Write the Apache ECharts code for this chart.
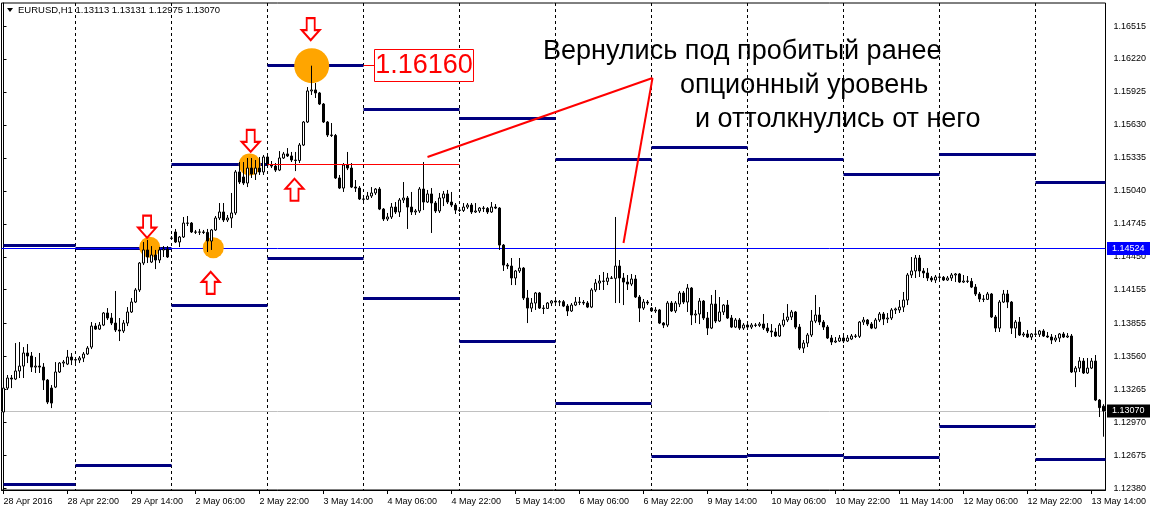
<!DOCTYPE html>
<html><head><meta charset="utf-8">
<script src="https://cdn.jsdelivr.net/npm/echarts@6/dist/echarts.min.js"></script>
<style>html,body{margin:0;padding:0;background:#fff}#c{width:1150px;height:511px}</style>
</head><body><div id="c"></div>
<script>
// ---- data ----
const days = ['28 Apr','29 Apr','2 May','3 May','4 May','5 May','6 May','9 May','10 May','11 May','12 May','13 May'];
const dayFirstHour = [6,0,0,0,0,0,0,0,0,0,0,0];
const dayLastHour  = [23,23,23,23,23,23,23,23,23,23,23,17];
const xTickLabels = ['28 Apr 2016','28 Apr 22:00','29 Apr 14:00','2 May 06:00','2 May 22:00','3 May 14:00','4 May 06:00','4 May 22:00','5 May 14:00','6 May 06:00','6 May 22:00','9 May 14:00','10 May 06:00','10 May 22:00','11 May 14:00','12 May 06:00','12 May 22:00','13 May 14:00'];
const yTicks = [1.12380,1.12675,1.12970,1.13265,1.13560,1.13855,1.14155,1.14450,1.14745,1.15040,1.15335,1.15630,1.15925,1.16220,1.16515];
const yMin = 1.12363, yMax = 1.16721;

const opens = [
1.13061,1.13275,1.13365,1.13356,1.13428,1.13472,1.13589,1.13562,1.13463,1.13472,
1.13463,1.13347,1.13275,1.13284,1.13419,1.13499,1.13490,1.13553,1.13526,1.13526,
1.13544,1.13580,1.13642,1.13830,1.13803,1.13839,1.13947,1.13902,1.13857,1.13795,
1.13786,1.13857,1.13956,1.14045,1.14153,1.14394,1.14511,1.14403,1.14466,1.14421,
1.14511,1.14520,1.14618,1.14672,1.14582,1.14627,1.14752,1.14752,1.14672,1.14670,
1.14672,1.14668,1.14591,1.14690,1.14797,1.14851,1.14779,1.14797,1.14842,1.15209,
1.15164,1.15110,1.15244,1.15191,1.15244,1.15209,1.15343,1.15271,1.15262,1.15226,
1.15334,1.15370,1.15352,1.15316,1.15312,1.15450,1.15656,1.15934,1.15943,1.15916,
1.15817,1.15656,1.15540,1.15536,1.15155,1.15065,1.15271,1.15244,1.15074,1.15065,
1.14967,1.14965,1.14994,1.15021,1.15056,1.14877,1.14788,1.14806,1.14895,1.14851,
1.14958,1.14976,1.14895,1.14851,1.14860,1.15056,1.14940,1.15012,1.14931,1.14860,
1.14976,1.15012,1.14940,1.14913,1.14868,1.14865,1.14895,1.14913,1.14851,1.14860,
1.14886,1.14883,1.14851,1.14895,1.14886,1.14555,1.14376,1.14367,1.14260,1.14323,
1.14349,1.14081,1.13991,1.14036,1.14126,1.13991,1.13988,1.14036,1.14054,1.14045,
1.14048,1.14009,1.13965,1.14018,1.14045,1.14042,1.14036,1.14000,1.14153,1.14215,
1.14233,1.14230,1.14260,1.14257,1.14367,1.14260,1.14224,1.14206,1.14251,1.14090,
1.13991,1.14045,1.13991,1.13965,1.13974,1.13857,1.13839,1.14036,1.13965,1.14027,
1.14126,1.14045,1.14170,1.13929,1.13938,1.14054,1.13902,1.13812,1.14027,1.13875,
1.13956,1.14018,1.13902,1.13821,1.13884,1.13812,1.13839,1.13821,1.13839,1.13836,
1.13848,1.13812,1.13786,1.13777,1.13741,1.13839,1.13884,1.13911,1.13956,1.13821,
1.13633,1.13678,1.13750,1.13875,1.13929,1.13866,1.13821,1.13723,1.13687,1.13696,
1.13723,1.13696,1.13714,1.13741,1.13738,1.13866,1.13884,1.13848,1.13812,1.13884,
1.13938,1.13893,1.13902,1.13974,1.13974,1.14000,1.14063,1.14287,1.14323,1.14439,
1.14323,1.14305,1.14260,1.14242,1.14269,1.14266,1.14242,1.14260,1.14287,1.14296,
1.14224,1.14233,1.14230,1.14179,1.14117,1.14072,1.14069,1.14117,1.13911,1.13812,
1.14045,1.14117,1.14045,1.13812,1.13866,1.13750,1.13759,1.13732,1.13759,1.13756,
1.13786,1.13741,1.13732,1.13705,1.13723,1.13759,1.13732,1.13741,1.13419,1.13454,
1.13517,1.13410,1.13454,1.13517,1.13168,1.13113];

const closes = [
1.13275,1.13365,1.13356,1.13428,1.13472,1.13589,1.13562,1.13463,1.13472,1.13463,
1.13347,1.13150,1.13141,1.13419,1.13499,1.13508,1.13553,1.13526,1.13530,1.13544,
1.13580,1.13633,1.13830,1.13803,1.13839,1.13947,1.13902,1.13857,1.13795,1.13786,
1.13857,1.13956,1.14045,1.14153,1.14394,1.14511,1.14448,1.14466,1.14421,1.14511,
1.14520,1.14448,1.14615,1.14582,1.14627,1.14752,1.14750,1.14672,1.14670,1.14672,
1.14668,1.14591,1.14690,1.14797,1.14851,1.14779,1.14797,1.14842,1.15209,1.15119,
1.15110,1.15244,1.15191,1.15244,1.15209,1.15343,1.15271,1.15262,1.15226,1.15334,
1.15370,1.15352,1.15316,1.15312,1.15450,1.15656,1.15934,1.15943,1.15916,1.15817,
1.15656,1.15540,1.15536,1.15155,1.15065,1.15271,1.15244,1.15074,1.15065,1.14967,
1.14965,1.14994,1.15021,1.15056,1.14877,1.14788,1.14806,1.14895,1.14851,1.14958,
1.14976,1.14895,1.14851,1.14860,1.15056,1.14940,1.15012,1.14931,1.14860,1.14976,
1.15012,1.14940,1.14913,1.14868,1.14865,1.14895,1.14913,1.14851,1.14860,1.14886,
1.14883,1.14851,1.14895,1.14886,1.14555,1.14376,1.14367,1.14260,1.14323,1.14349,
1.14081,1.13991,1.14036,1.14126,1.13991,1.13988,1.14036,1.14054,1.14045,1.14048,
1.14009,1.13965,1.14018,1.14045,1.14042,1.14036,1.14000,1.14153,1.14215,1.14233,
1.14230,1.14260,1.14257,1.14367,1.14260,1.14224,1.14206,1.14251,1.14090,1.13991,
1.14045,1.14036,1.13965,1.13974,1.13857,1.13839,1.14036,1.13965,1.14036,1.14126,
1.14045,1.14170,1.13929,1.13938,1.14054,1.13902,1.13812,1.14027,1.13875,1.13956,
1.14018,1.13902,1.13821,1.13884,1.13812,1.13839,1.13821,1.13839,1.13836,1.13848,
1.13812,1.13786,1.13777,1.13741,1.13839,1.13884,1.13911,1.13956,1.13821,1.13633,
1.13678,1.13750,1.13875,1.13929,1.13866,1.13821,1.13723,1.13687,1.13696,1.13723,
1.13696,1.13723,1.13741,1.13738,1.13866,1.13884,1.13848,1.13812,1.13884,1.13938,
1.13893,1.13902,1.13974,1.13983,1.14000,1.14063,1.14287,1.14323,1.14439,1.14323,
1.14305,1.14260,1.14242,1.14269,1.14266,1.14242,1.14260,1.14287,1.14296,1.14224,
1.14233,1.14230,1.14179,1.14117,1.14072,1.14069,1.14117,1.13911,1.13812,1.14045,
1.14117,1.14045,1.13812,1.13866,1.13750,1.13759,1.13732,1.13759,1.13756,1.13786,
1.13741,1.13732,1.13705,1.13723,1.13759,1.13732,1.13741,1.13419,1.13454,1.13517,
1.13410,1.13454,1.13517,1.13168,1.13100,1.13070];

const highs = [
1.13454,1.13392,1.13392,1.13678,1.13687,1.13642,1.13669,1.13598,1.13553,1.13589,
1.13499,1.13356,1.13302,1.13508,1.13508,1.13526,1.13616,1.13589,1.13553,1.13562,
1.13598,1.13651,1.13866,1.13857,1.13866,1.13956,1.13991,1.13947,1.14144,1.13902,
1.13884,1.14000,1.14081,1.14170,1.14403,1.14582,1.14600,1.14546,1.14511,1.14537,
1.14546,1.14546,1.14636,1.14699,1.14636,1.14806,1.14815,1.14761,1.14690,1.14699,
1.14690,1.14699,1.14699,1.14815,1.14931,1.14931,1.14824,1.15021,1.15226,1.15298,
1.15298,1.15334,1.15334,1.15316,1.15343,1.15361,1.15361,1.15307,1.15289,1.15396,
1.15388,1.15423,1.15388,1.15388,1.15468,1.15665,1.15969,1.16160,1.16005,1.15925,
1.15826,1.15665,1.15647,1.15549,1.15182,1.15289,1.15388,1.15289,1.15137,1.15083,
1.15003,1.15030,1.15074,1.15065,1.15074,1.14886,1.14842,1.14931,1.14940,1.14976,
1.15119,1.14994,1.15030,1.14877,1.15074,1.15298,1.15048,1.15065,1.14949,1.15021,
1.15039,1.15048,1.15030,1.14931,1.14895,1.14931,1.14931,1.14931,1.14931,1.14895,
1.14904,1.14895,1.14940,1.14922,1.14895,1.14564,1.14394,1.14439,1.14332,1.14439,
1.14358,1.14153,1.14081,1.14135,1.14135,1.14018,1.14045,1.14063,1.14063,1.14063,
1.14063,1.14027,1.14036,1.14090,1.14090,1.14063,1.14054,1.14170,1.14251,1.14287,
1.14314,1.14305,1.14278,1.14806,1.14421,1.14305,1.14287,1.14296,1.14287,1.14108,
1.14072,1.14063,1.14000,1.14000,1.13983,1.13866,1.14054,1.14054,1.14054,1.14144,
1.14144,1.14206,1.14179,1.13974,1.14081,1.14063,1.13956,1.14108,1.14153,1.14090,
1.14027,1.14063,1.13929,1.13902,1.13902,1.13857,1.13857,1.13857,1.13857,1.13866,
1.13938,1.13857,1.13848,1.13812,1.13857,1.13947,1.14027,1.13974,1.13965,1.13848,
1.13705,1.13768,1.13974,1.14108,1.14000,1.13884,1.13839,1.13750,1.13732,1.13750,
1.13750,1.13750,1.13759,1.13759,1.13875,1.13911,1.13893,1.13866,1.13902,1.13956,
1.13956,1.13947,1.13991,1.13995,1.14063,1.14135,1.14305,1.14448,1.14466,1.14466,
1.14349,1.14349,1.14278,1.14287,1.14287,1.14278,1.14278,1.14305,1.14305,1.14305,
1.14287,1.14278,1.14260,1.14206,1.14135,1.14108,1.14135,1.14126,1.13929,1.14063,
1.14153,1.14153,1.14054,1.13884,1.13911,1.13777,1.13795,1.13768,1.13795,1.13795,
1.13803,1.13777,1.13759,1.13750,1.13768,1.13777,1.13768,1.13759,1.13472,1.13553,
1.13544,1.13544,1.13544,1.13571,1.13177,1.13131];

const lows = [
1.13025,1.13258,1.13275,1.13347,1.13365,1.13365,1.13499,1.13419,1.13410,1.13410,
1.13258,1.13132,1.13096,1.13275,1.13410,1.13463,1.13481,1.13481,1.13490,1.13499,
1.13508,1.13571,1.13624,1.13795,1.13795,1.13830,1.13884,1.13839,1.13777,1.13696,
1.13768,1.13830,1.13947,1.14036,1.14135,1.14376,1.14394,1.14394,1.14340,1.14394,
1.14448,1.14439,1.14600,1.14573,1.14537,1.14618,1.14725,1.14663,1.14654,1.14645,
1.14654,1.14493,1.14511,1.14681,1.14779,1.14761,1.14761,1.14708,1.14824,1.15101,
1.15092,1.15074,1.15155,1.15137,1.15182,1.15182,1.15262,1.15244,1.15209,1.15217,
1.15325,1.15343,1.15298,1.15217,1.15289,1.15441,1.15647,1.15898,1.15871,1.15808,
1.15647,1.15522,1.15522,1.15146,1.15056,1.15030,1.15226,1.15065,1.15030,1.14958,
1.14931,1.14958,1.14976,1.15003,1.14868,1.14770,1.14770,1.14788,1.14833,1.14806,
1.14931,1.14699,1.14824,1.14824,1.14842,1.14868,1.14931,1.14663,1.14842,1.14842,
1.14904,1.14922,1.14895,1.14833,1.14851,1.14851,1.14877,1.14833,1.14842,1.14842,
1.14851,1.14833,1.14842,1.14877,1.14511,1.14323,1.14340,1.14197,1.14197,1.14305,
1.14063,1.13857,1.13956,1.13974,1.13983,1.13938,1.13983,1.14009,1.14027,1.14009,
1.14000,1.13920,1.13956,1.14009,1.14018,1.14018,1.13991,1.13991,1.14135,1.14153,
1.14153,1.14197,1.14251,1.14036,1.14036,1.14018,1.14153,1.14188,1.14081,1.13866,
1.13974,1.14018,1.13956,1.13947,1.13848,1.13812,1.13821,1.13956,1.13947,1.14000,
1.14027,1.13956,1.13839,1.13857,1.13848,1.13884,1.13750,1.13803,1.13857,1.13866,
1.13929,1.13893,1.13812,1.13812,1.13795,1.13795,1.13795,1.13803,1.13821,1.13821,
1.13795,1.13768,1.13732,1.13732,1.13732,1.13821,1.13866,1.13884,1.13803,1.13616,
1.13589,1.13642,1.13732,1.13857,1.13839,1.13795,1.13714,1.13660,1.13678,1.13687,
1.13678,1.13687,1.13705,1.13723,1.13723,1.13839,1.13830,1.13803,1.13803,1.13866,
1.13839,1.13857,1.13884,1.13938,1.13947,1.13956,1.14018,1.14260,1.14260,1.14269,
1.14260,1.14233,1.14224,1.14215,1.14242,1.14233,1.14233,1.14233,1.14224,1.14215,
1.14215,1.14215,1.14170,1.14099,1.14045,1.14045,1.14063,1.13902,1.13777,1.13777,
1.14036,1.13991,1.13759,1.13723,1.13741,1.13732,1.13723,1.13705,1.13732,1.13732,
1.13732,1.13723,1.13669,1.13687,1.13687,1.13723,1.13723,1.13410,1.13284,1.13419,
1.13401,1.13401,1.13445,1.13159,1.13016,1.12840];

// daily option levels (start bar, end bar, upper, lower)
const dayStart = [0,18,42,66,90,114,138,162,186,210,234,258];
const dayEnd   = [18,42,66,90,114,138,162,186,210,234,258,275.5];
const upperLevels = [1.14549,1.14528,1.15276,1.16160,1.15772,1.15687,1.15325,1.15432,1.15325,1.15191,1.15370,1.15119];
const lowerLevels = [1.12416,1.12586,1.14014,1.14439,1.14076,1.13696,1.13141,1.12667,1.12676,1.12658,1.12935,1.12640];

const breakLevel = 1.14524;   // thin blue line
const lastPrice  = 1.13070;   // current price (grey line)
const retestLevel = 1.15276;  // red horizontal line
const retestFrom = 66, retestTo = 114;
const peakLevel = 1.16160, peakLabelFrom = 90, peakLabelTo = 92.75;
// pointer lines [x0,y0,x1,y1] in bar index / price
const pointers = [[106,1.15343,162.25,1.16050],[155,1.14573,162.25,1.16050]];
// orange circles [bar, price, size]
const circles = [[36.55,1.14536,21],[52.45,1.14531,21],[61.55,1.15276,22],[77.05,1.16160,35]];
const downArrows = [[35.9,1.14719],[61.8,1.15488],[76.8,1.16487]];
const upArrows = [[51.8,1.14217],[72.75,1.15050]];
const titleText = 'EURUSD,H1 1.13113 1.13131 1.12975 1.13070';
const noteLines = ['Вернулись под пробитый ранее','опционный уровень','и оттолкнулись от него'];
const peakLabel = '1.16160';

// ---- build ----
const X0 = -0.5, X1 = 275.5;
const cats = [];
days.forEach((d,k)=>{ for(let h=dayFirstHour[k]; h<=dayLastHour[k]; h++){ cats.push(d+' '+String(h).padStart(2,'0')+':00'); } });
const candleData = opens.map((o,i)=>[o, closes[i], lows[i], highs[i]]);
const sepData = dayStart.slice(1).map(s=>({coords:[[s,yMax],[s,yMin]]}));
const levelData = [];
dayStart.forEach((s,k)=>{ levelData.push({coords:[[s,upperLevels[k]],[dayEnd[k],upperLevels[k]]]}); levelData.push({coords:[[s,lowerLevels[k]],[dayEnd[k],lowerLevels[k]]]}); });
const redThin = [{coords:[[retestFrom,retestLevel],[retestTo,retestLevel]]},{coords:[[peakLabelFrom,peakLevel],[peakLabelTo,peakLevel]]}];
const redThick = pointers.map(p=>({coords:[[p[0],p[1]],[p[2],p[3]]]}));
const downPath = 'path://M5,0 L13,0 L13,12 L18,12 L9,22 L0,12 L5,12 Z';
const upPath = 'path://M9,0 L18,10 L13,10 L13,22 L5,22 L5,10 L0,10 Z';
const FONT = 'Liberation Sans, Arial, sans-serif';
const boxLabel = (bg)=>({show:true,position:'right',distance:1.5,formatter:p=>p.value[1].toFixed(5),
  backgroundColor:bg,color:'#fff',opacity:1,padding:[2,6,2,5],fontSize:9,fontFamily:FONT});

const chart = echarts.init(document.getElementById('c'), null, {renderer:'canvas'});
chart.setOption({
  animation:false,
  backgroundColor:'#fff',
  grid:{left:1.5,right:44.5,top:3,bottom:21,show:true,borderColor:'#000',borderWidth:1,backgroundColor:'#fff'},
  xAxis:[
    {type:'category',data:cats,boundaryGap:true,
     axisLine:{show:true,lineStyle:{color:'#000',width:1}},
     axisTick:{show:true,interval:15,alignWithLabel:true,length:4,lineStyle:{color:'#000'}},
     axisLabel:{interval:15,align:'left',margin:7,color:'#000',fontSize:9,fontFamily:FONT,
       formatter:(v,i)=> (i%16===0 ? (xTickLabels[i/16]||'') : '')},
     splitLine:{show:false}},
    {type:'value',min:X0,max:X1,show:false,splitLine:{show:false}}
  ],
  yAxis:[{type:'value',position:'right',min:yMin,max:yMax,scale:true,
     splitLine:{show:false},
     axisLine:{show:true,lineStyle:{color:'#000'}},
     axisTick:{show:true,length:3,customValues:yTicks,lineStyle:{color:'#000'}},
     axisLabel:{customValues:yTicks,formatter:v=>v.toFixed(5),color:'#000',fontSize:9,fontFamily:FONT,margin:8}}],
  graphic:[
    {type:'polygon',z:100,shape:{points:[[7,8],[13,8],[10,12]]},style:{fill:'#000'}},
    {type:'text',z:100,x:18,y:10,style:{text:titleText,font:'9.5px '+FONT,fill:'#000',verticalAlign:'middle'}},
    {type:'text',z:100,x:543,y:52,style:{text:noteLines[0],font:'27px '+FONT,fill:'#000',verticalAlign:'middle'}},
    {type:'text',z:100,x:680,y:86,style:{text:noteLines[1],font:'27px '+FONT,fill:'#000',verticalAlign:'middle'}},
    {type:'text',z:100,x:695,y:120,style:{text:noteLines[2],font:'27px '+FONT,fill:'#000',verticalAlign:'middle'}},
    {type:'rect',z:100,shape:{x:374.5,y:49.5,width:99,height:32},style:{fill:'#fff',stroke:'#ff0000',lineWidth:1}},
    {type:'text',z:101,x:424,y:66,style:{text:peakLabel,font:'27px '+FONT,fill:'#ff0000',align:'center',verticalAlign:'middle'}}
  ],
  series:[
    {type:'lines',coordinateSystem:'cartesian2d',xAxisIndex:1,yAxisIndex:0,z:1,silent:true,
     lineStyle:{color:'#000',width:1,type:[3,3],opacity:1},data:sepData},
    {type:'lines',coordinateSystem:'cartesian2d',xAxisIndex:1,yAxisIndex:0,z:2,silent:true,
     lineStyle:{color:'#c0c0c0',width:1,opacity:1},data:[{coords:[[X0,lastPrice],[X1,lastPrice]]}]},
    {type:'lines',coordinateSystem:'cartesian2d',xAxisIndex:1,yAxisIndex:0,z:2,silent:true,
     lineStyle:{color:'#000080',width:3,opacity:1},data:levelData},
    {type:'lines',coordinateSystem:'cartesian2d',xAxisIndex:1,yAxisIndex:0,z:2,silent:true,
     lineStyle:{color:'#0000ff',width:1,opacity:1},data:[{coords:[[X0,breakLevel],[X1,breakLevel]]}]},
    {type:'scatter',xAxisIndex:1,yAxisIndex:0,z:3,silent:true,symbol:'circle',
     symbolSize:d=>d[2],itemStyle:{color:'#FFA500',opacity:1},data:circles},
    {type:'candlestick',xAxisIndex:0,yAxisIndex:0,z:4,barWidth:3,silent:true,
     itemStyle:{color:'#ffffff',color0:'#000000',borderColor:'#000000',borderColor0:'#000000',borderWidth:1},
     data:candleData},
    {type:'lines',coordinateSystem:'cartesian2d',xAxisIndex:1,yAxisIndex:0,z:5,silent:true,
     lineStyle:{color:'#ff0000',width:1,opacity:1},data:redThin},
    {type:'lines',coordinateSystem:'cartesian2d',xAxisIndex:1,yAxisIndex:0,z:5,silent:true,
     lineStyle:{color:'#ff0000',width:2,opacity:1},data:redThick},
    {type:'scatter',xAxisIndex:1,yAxisIndex:0,z:6,silent:true,symbol:downPath,symbolSize:[18,22],symbolKeepAspect:false,
     itemStyle:{color:'#fff',borderColor:'#ff0000',borderWidth:2,opacity:1},data:downArrows},
    {type:'scatter',xAxisIndex:1,yAxisIndex:0,z:6,silent:true,symbol:upPath,symbolSize:[18,22],symbolKeepAspect:false,
     itemStyle:{color:'#fff',borderColor:'#ff0000',borderWidth:2,opacity:1},data:upArrows},
    {type:'scatter',xAxisIndex:1,yAxisIndex:0,z:7,silent:true,symbolSize:0,clip:false,
     itemStyle:{opacity:1},
     data:[{value:[X1,breakLevel],label:boxLabel('#0000ff')},{value:[X1,lastPrice],label:boxLabel('#000000')}]}
  ]
});
</script></body></html>
